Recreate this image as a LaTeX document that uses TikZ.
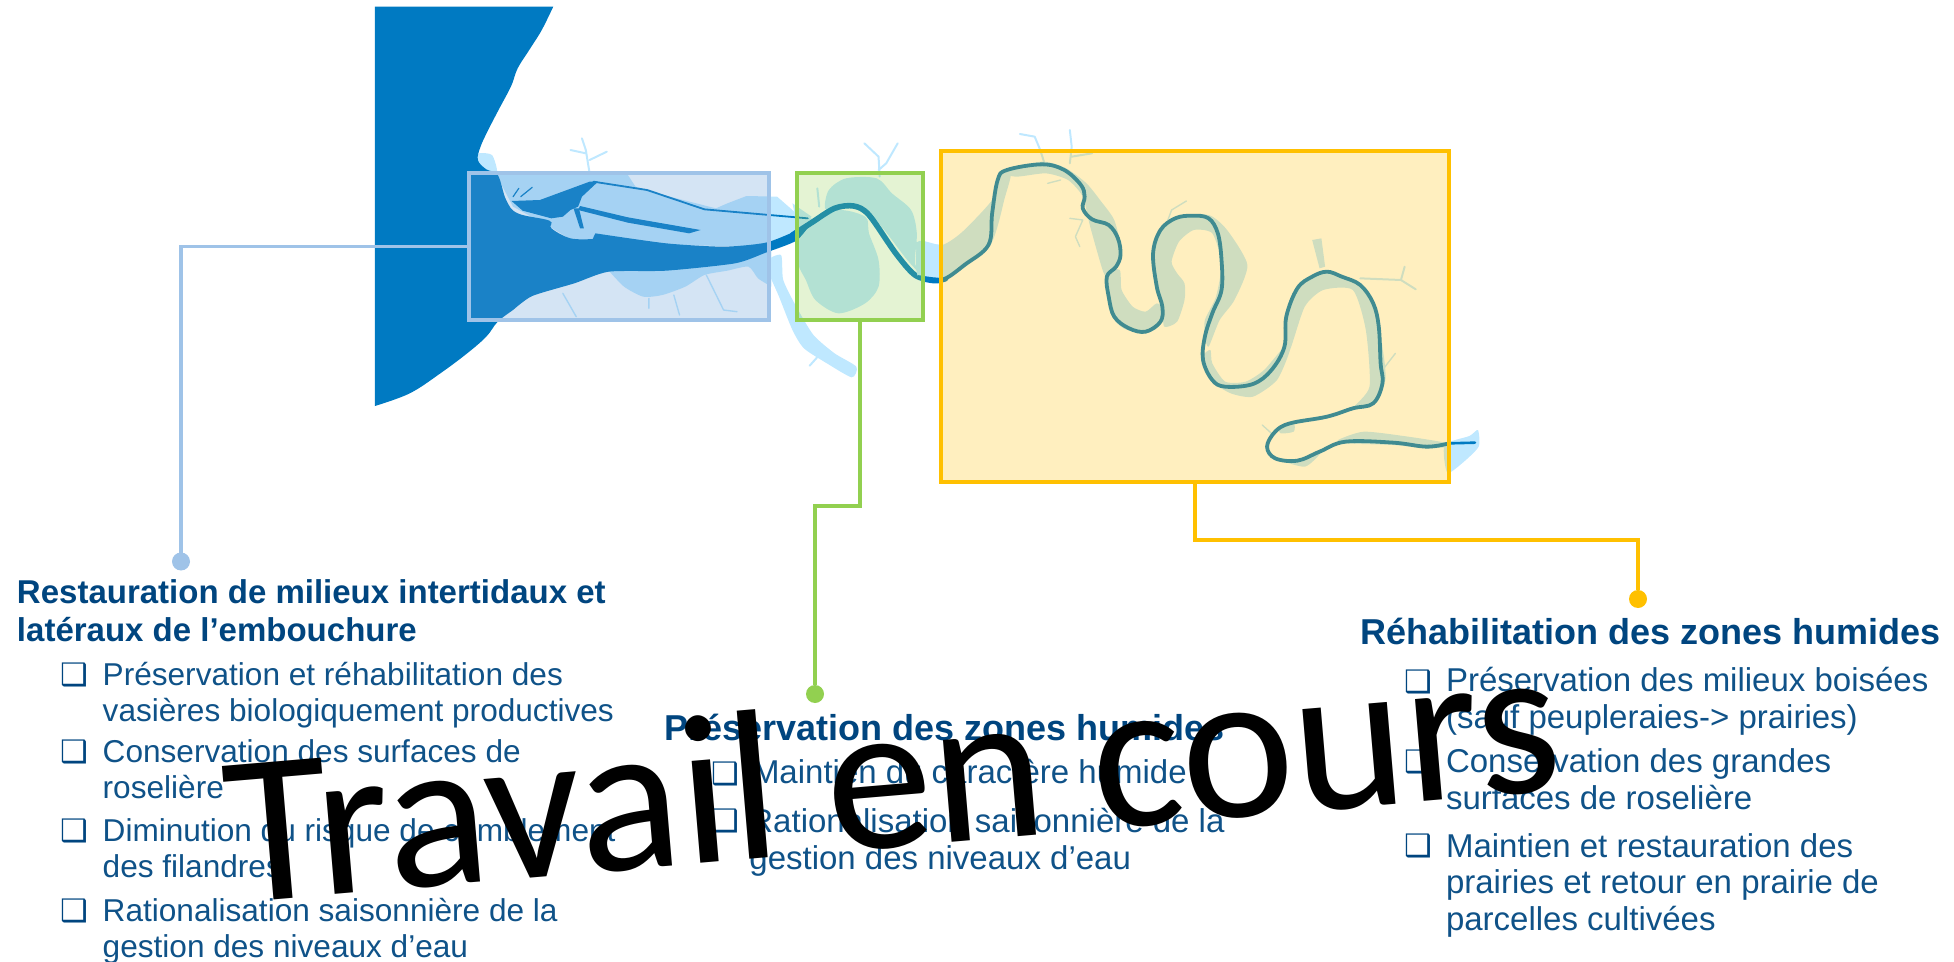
\documentclass[tikz,border=0pt]{standalone}
\usepackage{fontspec}
\setmainfont{Liberation Sans}
\newfontfamily\bulfont{DejaVu Sans}
\newfontfamily\stampfont{Carlito}
\definecolor{seac}{HTML}{007AC2}
\definecolor{lightc}{HTML}{BFE8FF}
\definecolor{bluec}{HTML}{9FC3E8}
\definecolor{bluefill}{HTML}{619AD5}
\definecolor{greenc}{HTML}{92D050}
\definecolor{yellowc}{HTML}{FFC000}
\definecolor{titlec}{HTML}{00457F}
\definecolor{bodyc}{HTML}{0F5288}
\tikzset{
  seafill/.style={fill=seac,draw=none},
  lightfill/.style={fill=lightc,draw=none},
  trib/.style={draw=lightc,line width=1pt,line cap=round,line join=round},
  rivr/.style={draw=seac,line cap=round,line join=round},
  zonebox/.style={rectangle,line width=2pt,outer sep=0pt,inner sep=0pt},
  link/.style={line width=1.8pt},
  enddot/.style={circle,inner sep=0pt,minimum size=9pt,outer sep=0pt},
  ttl/.style={anchor=base west,inner sep=0pt,outer sep=0pt,text=titlec,align=left,font=\fontsize{16.5}{18.6}\selectfont\bfseries},
  ttlb/.style={anchor=base west,inner sep=0pt,outer sep=0pt,text=titlec,align=left,font=\fontsize{18}{18.6}\selectfont\bfseries},
  item/.style={anchor=base west,inner sep=0pt,outer sep=0pt,text=bodyc,align=left,font=\fontsize{15.8}{18}\selectfont},
  itemb/.style={anchor=base west,inner sep=0pt,outer sep=0pt,text=bodyc,align=left,font=\fontsize{16.5}{18.25}\selectfont},
  bul/.style={anchor=base west,inner sep=0pt,outer sep=0pt,text=titlec,font=\bulfont\fontsize{15.5}{15.5}\selectfont},
}
\begin{document}
\begin{tikzpicture}[x=0.5pt,y=-0.5pt]
\useasboundingbox (0,0) rectangle (1954,962);
% ---------- estuary, zoom-1 coordinates
\begin{scope}[shift={(180pt,0pt)},x=0.19135pt,y=-0.16667pt]
  % light areas
  \fill[lightfill] plot[smooth cycle,tension=.4] coordinates {(310,460) (345,465) (358,515) (330,515) (308,485)};
  \fill[lightfill] (355,522) -- (700,525) -- (720,560) -- (810,590) -- (930,625) -- (960,610) -- (1010,588) -- (1090,590) -- (1140,640) -- (1190,660) -- (1140,710) -- (1060,740) -- (800,735) -- (615,705) -- (610,720) -- (550,718) -- (495,680) -- (400,620) -- cycle;
  \fill[lightfill] plot[smooth,tension=.4] coordinates {(650,812) (690,860) (740,890) (790,885) (850,860) (900,825) (960,812) (1015,800) (1040,835) (1075,860)} -- (1075,750) -- cycle;
  \fill[lightfill] plot[smooth cycle,tension=.4] coordinates {(1060,790) (1100,765) (1106,840) (1140,920) (1185,1005) (1240,1060) (1297,1100) (1285,1132) (1220,1090) (1160,1045) (1130,990) (1095,890)};
  \fill[lightfill] plot[smooth cycle,tension=.5] coordinates {(1215,625) (1225,570) (1270,535) (1350,535) (1390,580) (1440,630) (1455,700) (1450,790) (1468,825) (1430,780) (1370,690) (1330,640) (1280,610) (1240,625)};
  \fill[lightfill] plot[smooth cycle,tension=.5] coordinates {(1148,705) (1240,632) (1320,650) (1330,700) (1355,780) (1355,860) (1320,910) (1250,940) (1190,900) (1165,840) (1145,790)};
  \fill[lightfill] (1130,610) -- (1180,650) -- (1145,690) -- cycle;
  \fill[lightfill] (1450,725) -- (1520,735) -- (1530,830) -- (1465,825) -- cycle;
  \draw[trib] (580,415) -- (590,450) -- (600,520) (550,450) -- (590,460) (645,455) -- (600,480);
  \draw[trib,line width=.7pt] (905,825) -- (950,930) -- (985,935) (820,885) -- (835,945) (755,895) -- (755,925) (530,880) -- (565,950);
  \draw[trib] (1318,430) -- (1355,470) -- (1358,530) (1405,430) -- (1375,490) -- (1355,510);
  \draw[trib] (1195,565) -- (1200,620);
  \draw[trib] (1175,1097) -- (1200,1065);
  % sea with the estuary
  \fill[seafill] (39,20) -- plot[smooth,tension=.6] coordinates {(505,20) (475,90) (445,145) (412,205) (395,258) (362,330) (335,390) (315,440) (308,480) (330,508) (360,525) (382,600) (412,640) (495,662) (500,685) (550,715) (608,717)} -- (615,700) -- plot[smooth,tension=.4] coordinates {(615,700) (800,730) (950,740) (1060,728) (1140,692) (1180,662)} -- plot[smooth,tension=.4] coordinates {(1180,668) (1140,722) (1060,758) (980,790) (800,812) (650,815) (560,850) (450,888) (400,930)} -- plot[smooth,tension=.6] coordinates {(400,930) (360,965) (330,1010) (280,1060) (210,1120) (130,1180) (39,1218)} -- cycle;
  % dark branches
  \fill[seafill] (396,603) -- (470,600) -- (600,545) -- (622,545) -- (580,590) -- (570,620) -- (550,630) -- (530,650) -- (500,655) -- (425,632) -- cycle;
  \fill[seafill] (575,618) -- (700,652) -- (890,690) -- (860,700) -- (700,668) -- (570,630) -- cycle;
  \fill[seafill] (558,625) -- (572,625) -- (585,685) -- (575,685) -- cycle;
  \draw[rivr,line width=.9pt] (610,545) -- (750,570) -- (900,628) -- (1040,642) -- (1170,655);
  \draw[rivr,line width=.6pt] (400,590) -- (415,565) (420,590) -- (450,562);
  % main river
  \draw[rivr,line width=2.8pt] plot[smooth,tension=.5] coordinates {(1130,705) (1180,668) (1240,625) (1290,618) (1330,645) (1400,760) (1450,825) (1500,842) (1530,836)};
\end{scope}
% ---------- meanders, zoom-2 coordinates
\begin{scope}[shift={(460pt,-65pt)},x=0.18498pt,y=-0.16667pt]
  \fill[lightfill] plot[smooth cycle,tension=.4] coordinates {(-5,335) (60,345) (115,305) (195,210) (215,140) (240,120) (245,140) (230,200) (190,345) (75,445) (-5,440)};
  \fill[lightfill] plot[smooth cycle,tension=.4] coordinates {(215,125) (330,95) (395,115) (450,160) (490,215) (525,270) (545,360) (535,410) (510,440) (495,425) (460,290) (440,200) (400,150) (340,130) (260,140)};
  \fill[lightfill] plot[smooth cycle,tension=.4] coordinates {(505,430) (540,420) (545,480) (575,530) (610,545) (640,520) (660,540) (650,585) (610,610) (550,595) (515,550)};
  \fill[lightfill] plot[smooth cycle,tension=.4] coordinates {(630,370) (640,310) (690,260) (780,255) (830,300) (885,405) (850,510) (810,570) (780,650) (770,620) (770,570) (800,500) (815,400) (790,310) (740,300) (700,335) (680,395) (695,430) (715,460) (715,510) (695,575) (660,590) (655,530) (635,440)};
  \fill[lightfill] plot[smooth cycle,tension=.4] coordinates {(765,680) (785,660) (790,700) (825,755) (880,755) (930,720) (985,650) (1000,660) (965,750) (900,800) (840,790) (785,750)};
  \fill[lightfill] plot[smooth cycle,tension=.4] coordinates {(985,660) (990,560) (1020,475) (1080,425) (1140,435) (1190,465) (1230,540) (1250,650) (1258,750) (1225,820) (1170,835) (1215,770) (1205,600) (1170,480) (1090,480) (1040,530) (1000,660)};
  \fill[lightfill] plot[smooth cycle,tension=.4] coordinates {(1130,930) (1200,905) (1320,920) (1420,938) (1430,950) (1370,955) (1280,945) (1150,940)};
  \fill[lightfill] plot[smooth cycle,tension=.4] coordinates {(960,985) (1040,1010) (1085,965) (1030,990)};
  \fill[lightfill] plot[smooth cycle,tension=.4] coordinates {(970,890) (1010,880) (1010,905) (975,910)};
  \fill[lightfill] plot[smooth cycle,tension=.4] coordinates {(1418,945) (1485,918) (1508,900) (1510,950) (1465,1000) (1425,1028)};
  \fill[lightfill] (1060,330) -- (1085,325) -- (1095,410) -- (1080,415) -- cycle;
  \draw[trib] (1190,445) -- (1300,450) -- (1340,478) (1300,450) -- (1310,410);
  \draw[trib] (270,12) -- (310,20) -- (325,60) -- (335,95) (405,0) -- (410,50) -- (405,100) (410,80) -- (465,70);
  \draw[trib,line width=.7pt] (345,160) -- (380,150) (405,265) -- (440,270) -- (420,320) -- (432,350) (720,213) -- (680,240) -- (670,270) (925,885) -- (950,910) (1285,670) -- (1250,720);
  % river
  \draw[rivr,line width=1.9pt] plot[smooth,tension=.6] coordinates {(-5,441) (40,448) (70,445) (120,405) (185,345) (195,250) (210,150) (235,120) (330,103) (390,120) (435,165) (445,200) (440,235) (465,268) (510,285) (535,325) (542,375) (530,410) (505,440) (510,500) (525,560) (565,595) (610,605) (650,575) (655,530) (640,470) (630,370) (650,300) (690,265) (735,257) (780,265) (805,310) (815,390) (815,480) (790,550) (770,620) (765,690) (790,750) (825,770) (900,762) (950,720) (985,650) (990,560) (1020,475) (1060,440) (1100,425) (1140,440) (1190,465) (1225,520) (1240,590) (1245,700) (1250,760) (1225,820) (1170,835) (1100,860) (1000,880) (960,905) (938,950) (960,985) (1020,992) (1080,965) (1150,935) (1280,938) (1370,950) (1430,940)};
  \draw[rivr,line width=1.3pt] (1430,940) -- (1500,938);
\end{scope}
% ---------- zones
\node[zonebox,draw=bluec,fill=bluefill,fill opacity=.27,minimum width=150.25pt,minimum height=73.5pt] (bluebox) at (619,246.5) {};
\node[zonebox,draw=greenc,fill=greenc,fill opacity=.25,minimum width=62.8pt,minimum height=73.5pt] (greenbox) at (859.8,246.5) {};
\node[zonebox,draw=yellowc,fill=yellowc,fill opacity=.25,minimum width=254pt,minimum height=165.7pt] (yellowbox) at (1195,316.3) {};
% ---------- connectors
\node[enddot,fill=bluec] (bluedot) at (181,561.5) {};
\node[enddot,fill=greenc] (greendot) at (815,694) {};
\node[enddot,fill=yellowc] (yellowdot) at (1638,599) {};
\coordinate (greenturn) at (815,506);
\coordinate (yellowturn) at (1638,540);
\draw[link,draw=bluec] (bluebox.west) -| (bluedot);
\draw[link,draw=greenc] (greenbox.south) |- (greenturn) -- (greendot);
\draw[link,draw=yellowc] (yellowbox.south) |- (yellowturn) -- (yellowdot);
% ---------- left column (a node's base is the baseline of its last line)
\node[ttl] (lt) at (17,641) {Restauration de milieux intertidaux et\\latéraux de l’embouchure};
\node[bul] (lb1) at (60,685) {❑};
\node[item] (li1) at (102.7,721) {Préservation et réhabilitation des\\vasières biologiquement productives};
\node[bul] (lb2) at (60,762.7) {❑};
\node[item] (li2) at (102.7,798.5) {Conservation des surfaces de\\roselière};
\node[bul] (lb3) at (60,841.7) {❑};
\node[item] (li3) at (102.7,877.5) {Diminution du risque de comblement\\des filandres};
\node[bul] (lb4) at (60,921.7) {❑};
\node[item] (li4) at (102.7,957.5) {Rationalisation saisonnière de la\\gestion des niveaux d’eau};
% ---------- middle column
\node[ttlb] (mt) at (664.5,740) {Préservation des zones humides};
\node[bul] (mb1) at (711,784) {❑};
\node[itemb] (mi1) at (752,783) {Maintien du caractère humide};
\node[bul] (mb2) at (711,831) {❑};
\node[itemb] (mi2) at (749.4,869) {Rationalisation saisonnière de la\\gestion des niveaux d’eau};
% ---------- right column
\node[ttlb] (rt) at (1360,644) {Réhabilitation des zones humides};
\node[bul] (rb1) at (1404,692) {❑};
\node[itemb] (ri1) at (1446,728) {Préservation des milieux boisées\\(sauf peupleraies-> prairies)};
\node[bul] (rb2) at (1404,772) {❑};
\node[itemb] (ri2) at (1446,809) {Conservation des grandes\\surfaces de roselière};
\node[bul] (rb3) at (1404,856) {❑};
\node[itemb] (ri3) at (1446,930) {Maintien et restauration des\\prairies et retour en prairie de\\parcelles cultivées};
% ---------- overlay
\node[anchor=base west,inner sep=0pt,outer sep=0pt,rotate=4.85,text=black,font=\stampfont\fontsize{107}{107}\selectfont] (stamp) at (231,903) {Travail en cours};
\end{tikzpicture}
\end{document}
